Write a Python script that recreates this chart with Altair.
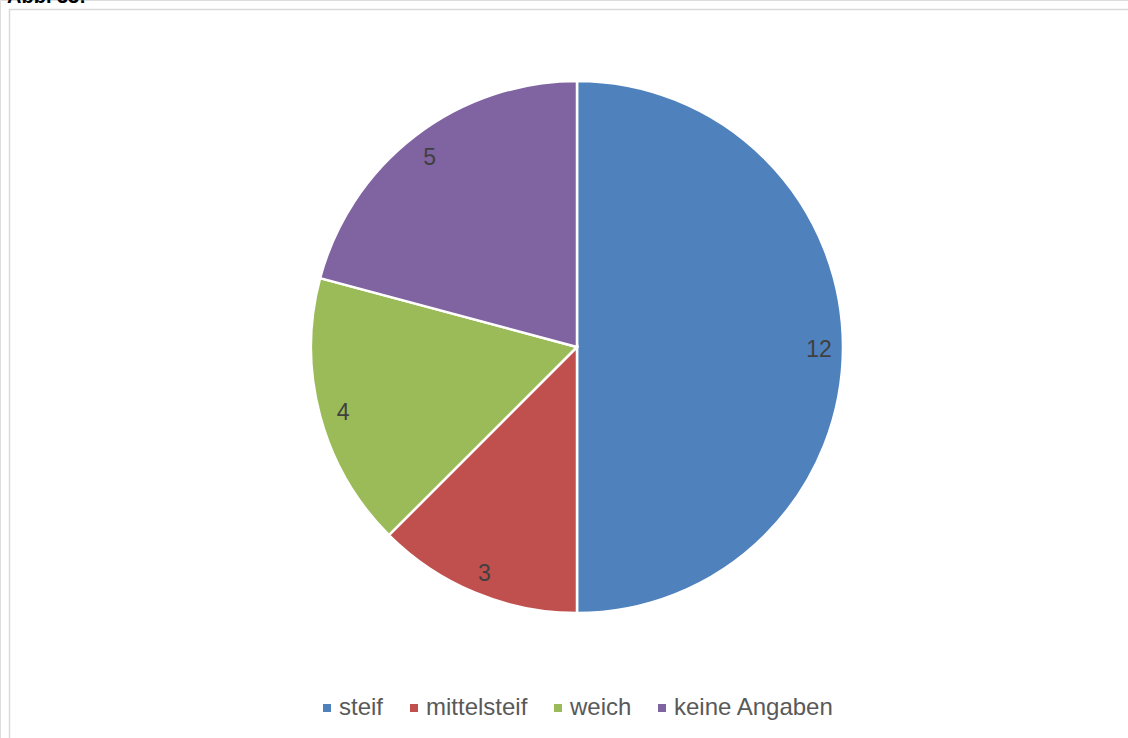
import altair as alt
import pandas as pd

categories = ["steif", "mittelsteif", "weich", "keine Angaben"]
values = [12, 3, 4, 5]
colors = ["#4f81bd", "#c0504d", "#9bbb59", "#8064a2"]
caption = ["Abb. 33:"]

df = pd.DataFrame({"cat": categories, "val": values, "ord": list(range(len(categories)))})

FONT = "Liberation Sans"
CX, CY, R = 577, 347, 266

frame = alt.Chart(pd.DataFrame({"a": [0]})).mark_rect(
    fill=None, stroke="#d9d9d9", strokeWidth=1.5
).encode(
    x=alt.value(9.5), x2=alt.value(1160), y=alt.value(9.5), y2=alt.value(760)
)

cap = alt.Chart(pd.DataFrame({"t": caption})).mark_text(
    align="left", baseline="alphabetic", font=FONT, fontSize=20, fontWeight="bold", color="#000000"
).encode(x=alt.value(7), y=alt.value(3), text="t:N")

base = alt.Chart(df).encode(
    theta=alt.Theta("val:Q", stack=True),
    order=alt.Order("ord:Q"),
)

arcs = base.mark_arc(radius=R, stroke="white", strokeWidth=2.5).encode(
    x=alt.value(CX), y=alt.value(CY),
    color=alt.Color(
        "cat:N",
        scale=alt.Scale(domain=categories, range=colors),
        sort=categories,
        legend=alt.Legend(
            title=None, orient="none", legendX=315, legendY=696, direction="horizontal",
            symbolType="square", symbolSize=64, symbolStrokeWidth=0,
            labelFontSize=24, labelFont=FONT, labelColor="#595959", labelLimit=400,
            columnPadding=18, labelOffset=0, symbolOffset=0,
        ),
    ),
)

labels = base.mark_text(radius=242, dy=3, font=FONT, fontSize=23, color="#404040").encode(
    x=alt.value(CX), y=alt.value(CY), text="val:Q"
)

chart = alt.layer(frame, arcs, labels, cap).properties(
    width=1128, height=738, padding=0,
    autosize=alt.AutoSizeParams(type="none"),
).configure_view(stroke=None).configure(background="white")

chart.save("out.html", embed_options={"renderer": "svg", "actions": False})
